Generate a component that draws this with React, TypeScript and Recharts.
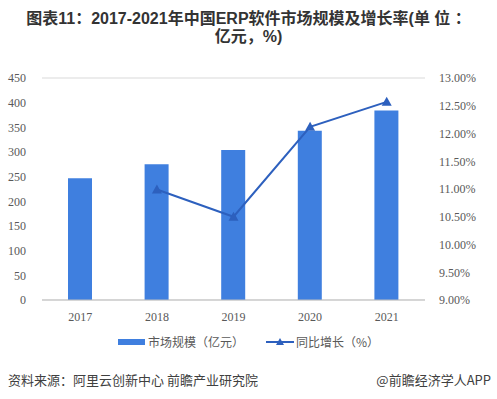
import React from 'react';
import { ComposedChart, Bar, Line, XAxis, YAxis, CartesianGrid } from 'recharts';

const years = ['2017', '2018', '2019', '2020', '2021'];
const marketSize = [247, 275, 304, 343, 384];
const growthRate: (number | null)[] = [null, 10.99, 10.5, 12.12, 12.57];
const leftTicks = [0, 50, 100, 150, 200, 250, 300, 350, 400, 450];
const rightTicks = [9, 9.5, 10, 10.5, 11, 11.5, 12, 12.5, 13];

const data = years.map((y, i) => ({ year: y, size: marketSize[i], rate: growthRate[i] }));

const BAR = '#3f7fdf';
const LINE = '#2d60be';
const TICK = { fontFamily: '"Liberation Serif", "Times New Roman", serif', fontSize: 12, fill: '#595959' };

const Triangle = (props: any) => {
  const { cx, cy } = props;
  if (cx == null || cy == null || props.value == null) return null;
  return <path d={`M${cx},${cy - 5} L${cx + 5},${cy + 4} L${cx - 5},${cy + 4} Z`} fill={LINE} />;
};

const titleStyle: React.CSSProperties = {
  position: 'absolute', left: 0, width: 497, height: 18, textAlign: 'center',
  fontFamily: '"Liberation Sans", "Noto Sans CJK SC", sans-serif',
  fontWeight: 'bold', fontSize: 16, lineHeight: '18px', color: '#333', whiteSpace: 'nowrap',
};

const App: React.FC = () => {
  return (
    <div style={{ position: 'absolute', left: 0, top: 0, width: 497, height: 399, background: '#fff', fontFamily: '"Noto Sans CJK SC", sans-serif' }}>
      <div style={{ ...titleStyle, top: 10 }}>图表11：2017-2021年中国ERP软件市场规模及增长率(单 位 ：</div>
      <div style={{ ...titleStyle, top: 28 }}>亿元，%)</div>
      <ComposedChart width={497} height={340} data={data} margin={{ top: 78, right: 0, left: 0, bottom: 10 }}>
        <CartesianGrid vertical={false} stroke="#d9d9d9" />
        <XAxis dataKey="year" tick={TICK} tickLine={false} axisLine={{ stroke: '#bfbfbf' }} height={30} tickMargin={6} />
        <YAxis yAxisId="left" domain={[0, 450]} ticks={leftTicks} tick={{ ...TICK, textAnchor: 'end' }} axisLine={false} tickLine={false} width={42} tickMargin={10} />
        <YAxis yAxisId="right" orientation="right" domain={[9, 13]} ticks={rightTicks} tickFormatter={(v: number) => `${v.toFixed(2)}%`} tick={TICK} axisLine={false} tickLine={false} width={72} tickMargin={8} />
        <Bar yAxisId="left" dataKey="size" fill={BAR} barSize={24} isAnimationActive={false} />
        <Line yAxisId="right" dataKey="rate" stroke={LINE} strokeWidth={2} dot={<Triangle />} activeDot={false} connectNulls={false} isAnimationActive={false} />
      </ComposedChart>
      <div style={{ position: 'absolute', top: 333, left: 0, width: 497, display: 'flex', justifyContent: 'center', alignItems: 'center', fontSize: 12, color: '#595959' }}>
        <span style={{ display: 'inline-block', width: 27, height: 6, background: BAR, marginRight: 3 }} />
        <span>市场规模（亿元）</span>
        <svg width={28} height={12} style={{ marginLeft: 22, marginRight: 2 }}>
          <line x1={0} y1={6} x2={28} y2={6} stroke={LINE} strokeWidth={2} />
          <path d="M14,2 L18,9 L10,9 Z" fill={LINE} />
        </svg>
        <span>同比增长（%）</span>
      </div>
      <div style={{ position: 'absolute', top: 370, left: 8, fontSize: 13, color: '#404040' }}>资料来源：阿里云创新中心 前瞻产业研究院</div>
      <div style={{ position: 'absolute', top: 370, right: 6, fontSize: 13, color: '#404040' }}>@前瞻经济学人APP</div>
    </div>
  );
};

export default App;
